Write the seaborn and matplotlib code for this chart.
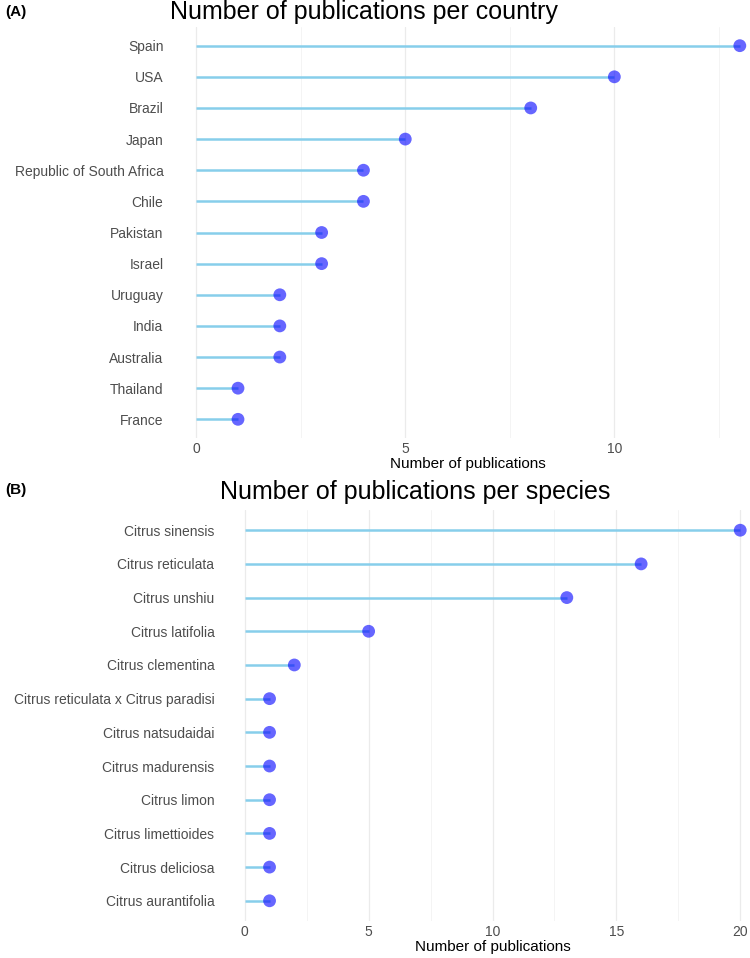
import pandas as pd
import seaborn as sns
import matplotlib.pyplot as plt
from matplotlib.ticker import MultipleLocator

countries = ['Spain', 'USA', 'Brazil', 'Japan', 'Republic of South Africa', 'Chile',
             'Pakistan', 'Israel', 'Uruguay', 'India', 'Australia', 'Thailand', 'France']
country_counts = [13, 10, 8, 5, 4, 4, 3, 3, 2, 2, 2, 1, 1]

species = ['Citrus sinensis', 'Citrus reticulata', 'Citrus unshiu', 'Citrus latifolia',
           'Citrus clementina', 'Citrus reticulata x Citrus paradisi', 'Citrus natsudaidai',
           'Citrus madurensis', 'Citrus limon', 'Citrus limettioides', 'Citrus deliciosa',
           'Citrus aurantifolia']
species_counts = [20, 16, 13, 5, 2, 1, 1, 1, 1, 1, 1, 1]

df_country = pd.DataFrame({'name': countries, 'n': country_counts})
df_species = pd.DataFrame({'name': species, 'n': species_counts})

sns.set_style('white')
plt.rcParams['font.family'] = ['Liberation Sans', 'DejaVu Sans']

W, H = 750, 958
fig = plt.figure(figsize=(7.5, 9.58), dpi=100)


def px_axes(left, right, top, bottom):
    return fig.add_axes([left / W, 1 - bottom / H, (right - left) / W, (bottom - top) / H])


def lollipop(ax, df, xmax_lim, title, title_y, left_px):
    ypos = range(len(df))
    ax.hlines(y=list(ypos), xmin=0, xmax=df['n'], color='#87CEEB', linewidth=1.8, zorder=2)
    sns.scatterplot(x=df['n'].values, y=list(ypos), ax=ax, color='blue', alpha=0.6,
                    s=85, edgecolor='none', zorder=3)
    ax.set_yticks(list(ypos))
    ax.set_yticklabels(df['name'])
    ax.set_ylim(len(df) - 0.4, -0.6)
    ax.set_xlim(-xmax_lim * 0.05, xmax_lim * 1.05)
    ax.xaxis.set_major_locator(MultipleLocator(5))
    ax.xaxis.set_minor_locator(MultipleLocator(2.5))
    ax.grid(axis='x', which='major', color='#EBEBEB', linewidth=0.9, zorder=0)
    ax.grid(axis='x', which='minor', color='#F2F2F2', linewidth=0.6, zorder=0)
    ax.grid(axis='y', visible=False)
    for s in ax.spines.values():
        s.set_visible(False)
    ax.tick_params(axis='y', length=0, labelsize=10, labelcolor='#4D4D4D', pad=4)
    ax.tick_params(axis='x', which='major', length=2.5, color='#333333', width=0.6,
                   labelsize=10, labelcolor='#4D4D4D', pad=0.5)
    ax.tick_params(axis='x', which='minor', length=0)
    ax.set_xlabel('Number of publications', fontsize=11, color='black', labelpad=0.5)
    ax.set_ylabel('')
    fig.text(left_px / W, 1 - title_y / H, title, fontsize=18, color='black',
             ha='left', va='center')


ax1 = px_axes(169, 767, 27, 438)
lollipop(ax1, df_country, 13, 'Number of publications per country', 12, 170)
fig.text(5 / W, 1 - 12 / H, '(A)', fontsize=11, fontweight='bold', color='black',
         ha='left', va='center')

ax2 = px_axes(220, 765, 510, 921)
lollipop(ax2, df_species, 20, 'Number of publications per species', 492, 220)
fig.text(5 / W, 1 - 490 / H, '(B)', fontsize=11, fontweight='bold', color='black',
         ha='left', va='center')

fig.savefig('out.png', dpi=100)
